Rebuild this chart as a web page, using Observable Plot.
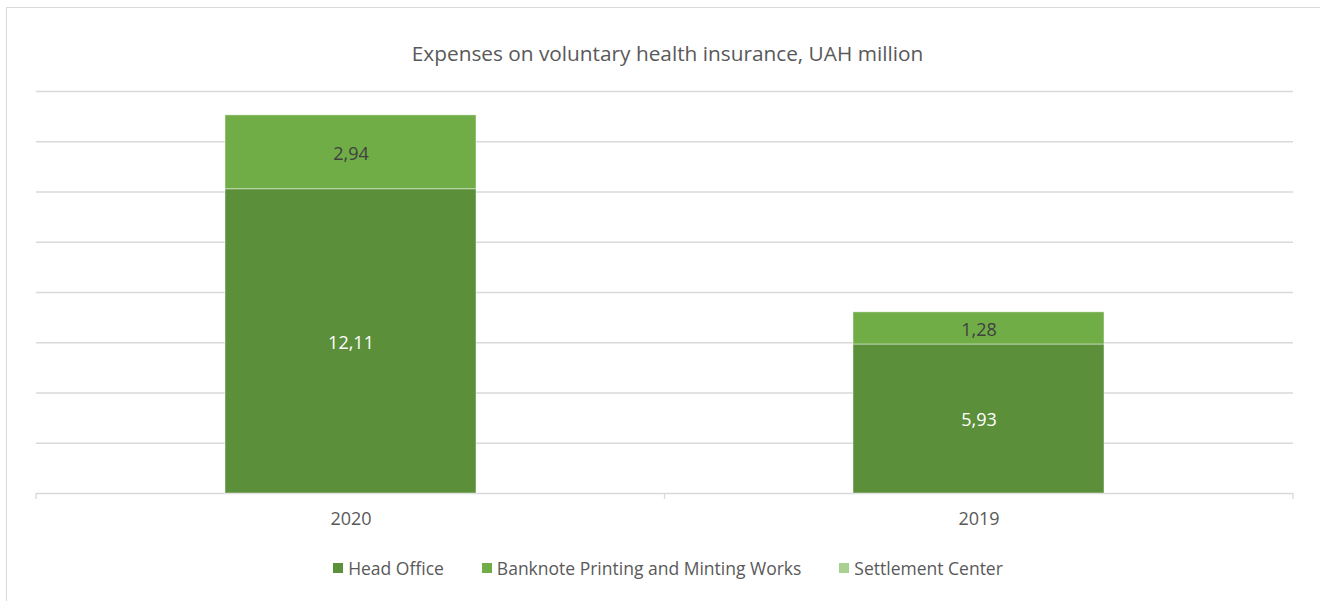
<!DOCTYPE html>
<html><head><meta charset="utf-8">
<script src="https://cdn.jsdelivr.net/npm/d3@7"></script>
<script src="https://cdn.jsdelivr.net/npm/@observablehq/plot@0.6"></script>
<style>
body{margin:0;background:#fff;font-family:"Open Sans",sans-serif;overflow:hidden}
#wrap{position:relative;width:1320px;height:601px;overflow:hidden}
#frame{position:absolute;left:6px;top:7px;width:1400px;height:700px;border:1.5px solid #d9d9d9;box-sizing:border-box}
#title{position:absolute;left:0;width:1335px;top:39px;text-align:center;font-size:20.8px;color:#595959;line-height:28px}
#chart{position:absolute;left:0;top:80px}
#legend{position:absolute;left:0;width:1336px;top:554px;line-height:28px;display:flex;justify-content:center;gap:38px;font-size:17.5px;color:#595959}
#legend .item{display:flex;align-items:center;gap:5px}
#legend .sw{width:10px;height:10px;display:inline-block}
</style>
</head><body>
<div id="wrap">
  <div id="frame"></div>
  <div id="title">Expenses on voluntary health insurance, UAH million</div>
  <div id="chart"></div>
  <div id="legend"></div>
</div>
<script>
const categories = ["2020", "2019"];
const seriesNames = ["Head Office", "Banknote Printing and Minting Works", "Settlement Center"];
const headOffice = [12.11, 5.93];
const banknoteWorks = [2.94, 1.28];
const settlementCenter = [0, 0];
const seriesColors = ["#5b8f3a", "#70ad47", "#a9d08e"];
const labelColors = ["#ffffff", "#404040", "#404040"];
const yTicks = [0, 2, 4, 6, 8, 10, 12, 14, 16];

const seriesValues = [headOffice, banknoteWorks, settlementCenter];
const data = categories.flatMap((c, i) =>
  seriesNames.map((s, j) => ({year: c, series: s, value: seriesValues[j][i], idx: j}))
);

const fmt = v => v.toFixed(2).replace(".", ",");

const boundaryTicks = (index, scales, values, dimensions) => {
  const {width, height, marginLeft, marginRight, marginBottom} = dimensions;
  const n = categories.length;
  const step = (width - marginLeft - marginRight) / n;
  const y0 = scales.y ? scales.y(0) : height - marginBottom;
  const g = d3.create("svg:g").attr("stroke", "#d9d9d9").attr("stroke-width", 1.3);
  d3.range(n + 1).forEach(k => {
    const x = marginLeft + k * step;
    g.append("line").attr("x1", x).attr("x2", x).attr("y1", y0).attr("y2", y0 + 6);
  });
  return g.node();
};

const chart = Plot.plot({
  width: 1320,
  height: 460,
  marginTop: 11,
  marginBottom: 47,
  marginLeft: 36,
  marginRight: 27,
  style: {fontFamily: "Open Sans", fontSize: "18px", color: "#595959", background: "transparent"},
  x: {domain: categories, paddingInner: 0.6, paddingOuter: 0.3, label: null, tickSize: 0, tickPadding: 19},
  y: {domain: [0, 16], axis: null},
  color: {domain: seriesNames, range: seriesColors},
  marks: [
    Plot.ruleY(yTicks, {stroke: "#d9d9d9", strokeWidth: 1.3}),
    boundaryTicks,
    Plot.barY(data, {x: "year", y: "value", fill: "series", stroke: "#ffffff", strokeOpacity: 0.45, strokeWidth: 1}),
    Plot.text(data, Plot.stackY({
      x: "year", y: "value", z: "series",
      text: d => d.value > 0 ? fmt(d.value) : null,
      fill: d => labelColors[d.idx],
      fontSize: 18,
      dy: 1.5
    }))
  ]
});
document.getElementById("chart").appendChild(chart);

const legend = d3.select("#legend");
seriesNames.forEach((s, j) => {
  const it = legend.append("div").attr("class", "item");
  it.append("span").attr("class", "sw").style("background", seriesColors[j]);
  it.append("span").text(s);
});
</script>
</body></html>
